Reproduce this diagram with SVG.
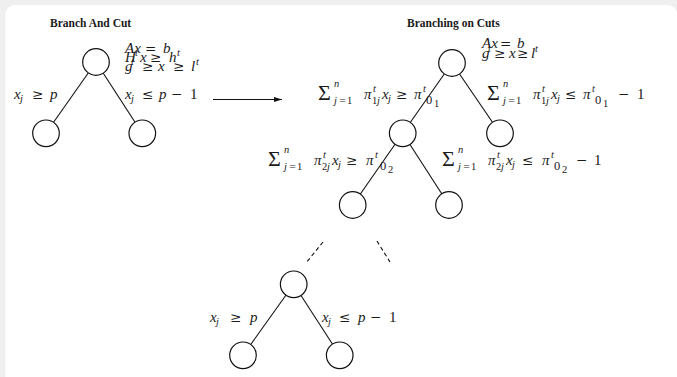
<svg xmlns="http://www.w3.org/2000/svg" width="677" height="377" viewBox="0 0 677 377">
<defs>
<style>
.bg{fill:#efefef}
.card{fill:#ffffff}
.ttl{font-family:"Liberation Serif",serif;font-weight:bold;font-size:11.5px;fill:#1a1a1a}
.m{font-family:"Liberation Serif",serif;font-style:italic;font-size:15px;fill:#1a1a1a}
.u{font-style:normal}
.o{font-family:"DejaVu Serif",serif;font-style:normal;font-size:13.5px}
.os{font-family:"DejaVu Serif",serif;font-style:normal;font-size:8.5px}
.s{font-size:10.5px}
.s2{font-size:12.5px}
.sum{font-size:22px;font-style:normal}
.node{fill:#fff;stroke:#111;stroke-width:1.2}
.edge{stroke:#111;stroke-width:1.1;fill:none}
.dash{stroke:#111;stroke-width:1.1;fill:none;stroke-dasharray:4 3}
</style>
<marker id="ah" markerWidth="8" markerHeight="6" refX="8" refY="3" orient="auto" markerUnits="userSpaceOnUse">
<path d="M0,0.5 L8,3 L0,5.5 Z" fill="#111"/>
</marker>
</defs>
<rect class="bg" x="0" y="0" width="677" height="377"/>
<rect class="card" x="5.5" y="5" width="671.5" height="380" rx="9"/>

<text class="ttl" x="50" y="27">Branch And Cut</text>
<text class="ttl" x="407" y="27">Branching on Cuts</text>

<g id="connectors">
<line class="edge" x1="96" y1="62" x2="46" y2="133"/>
<line class="edge" x1="96" y1="62" x2="142" y2="133"/>
<line class="edge" x1="213" y1="99.5" x2="282" y2="99.5" marker-end="url(#ah)"/>
<line class="edge" x1="452" y1="63" x2="402.7" y2="133.3"/>
<line class="edge" x1="452" y1="63" x2="500" y2="133.3"/>
<line class="edge" x1="402.7" y1="133.3" x2="352.7" y2="205"/>
<line class="edge" x1="402.7" y1="133.3" x2="449" y2="205"/>
<line class="dash" x1="323" y1="242" x2="306" y2="263"/>
<line class="dash" x1="377" y1="241" x2="390" y2="262"/>
<line class="edge" x1="293.7" y1="284.3" x2="243" y2="355.3"/>
<line class="edge" x1="293.7" y1="284.3" x2="339.7" y2="355.3"/>
</g>

<g id="n-l-root"><circle class="node" cx="96" cy="62" r="13.3"/></g>
<g id="n-l-left"><circle class="node" cx="46" cy="133.3" r="13.3"/></g>
<g id="n-l-right"><circle class="node" cx="142.3" cy="133.3" r="13.3"/></g>
<g id="n-r-root"><circle class="node" cx="452" cy="63" r="13.3"/></g>
<g id="n-r-1l"><circle class="node" cx="402.7" cy="133.3" r="13.3"/></g>
<g id="n-r-1r"><circle class="node" cx="500" cy="133.3" r="13.3"/></g>
<g id="n-r-2l"><circle class="node" cx="352.7" cy="205" r="13.3"/></g>
<g id="n-r-2r"><circle class="node" cx="449" cy="205" r="13.3"/></g>
<g id="n-b-root"><circle class="node" cx="293.7" cy="284.3" r="13.3"/></g>
<g id="n-b-left"><circle class="node" cx="243" cy="355.3" r="13.3"/></g>
<g id="n-b-right"><circle class="node" cx="339.7" cy="355.3" r="13.3"/></g>

<g id="labels">
<text class="m"><tspan x="125" y="53">Ax</tspan><tspan class="o" x="145" y="53">=</tspan><tspan x="163" y="53">b</tspan></text>
<text class="m"><tspan x="125" y="62">H</tspan><tspan class="s" x="135" y="56">t</tspan><tspan x="140" y="62">x</tspan><tspan class="o" x="150" y="62">≥</tspan><tspan x="169" y="62">h</tspan><tspan class="s" x="177" y="56">t</tspan></text>
<text class="m"><tspan x="125" y="71">g</tspan><tspan class="s" x="131" y="65">t</tspan><tspan class="o" x="142" y="71">≥</tspan><tspan x="158" y="71">x</tspan><tspan class="o" x="173" y="71">≥</tspan><tspan x="191" y="71">l</tspan><tspan class="s" x="196" y="65">t</tspan></text>
<text class="m"><tspan x="14" y="99">x</tspan><tspan class="s" x="20" y="102">j</tspan><tspan class="o" x="32" y="99">≥</tspan><tspan x="50" y="99">p</tspan></text>
<text class="m"><tspan x="125" y="99">x</tspan><tspan class="s" x="131" y="102">j</tspan><tspan class="o" x="142" y="99">≤</tspan><tspan x="159" y="99">p</tspan><tspan class="o" x="171" y="99">−</tspan><tspan class="u" x="190" y="99">1</tspan></text>

<text class="m"><tspan x="482" y="48">Ax</tspan><tspan class="o" x="500" y="48">=</tspan><tspan x="517" y="48">b</tspan></text>
<text class="m"><tspan x="482" y="58">g</tspan><tspan class="s" x="488" y="52">t</tspan><tspan class="o" x="494" y="58">≥</tspan><tspan x="509" y="58">x</tspan><tspan class="o" x="517" y="58">≥</tspan><tspan x="531" y="58">l</tspan><tspan class="s" x="535" y="52">t</tspan></text>

<text class="m"><tspan class="sum" x="318" y="100">Σ</tspan><tspan class="s" x="334" y="87">n</tspan><tspan class="s" x="334" y="104">j</tspan><tspan class="os" x="339" y="104">=</tspan><tspan class="s u" x="347" y="104">1</tspan><tspan x="364" y="99">π</tspan><tspan class="s" x="373" y="92">t</tspan><tspan class="s u" x="372" y="104">1</tspan><tspan class="s" x="377" y="104">j</tspan><tspan x="382" y="99">x</tspan><tspan class="s" x="388" y="102">j</tspan><tspan class="o" x="396" y="99">≥</tspan><tspan x="414" y="99">π</tspan><tspan class="s" x="423" y="92">t</tspan><tspan class="s2 u" x="426" y="104">0</tspan><tspan class="s u" x="434" y="107">1</tspan></text>

<text class="m"><tspan class="sum" x="487" y="100">Σ</tspan><tspan class="s" x="503" y="87">n</tspan><tspan class="s" x="503" y="104">j</tspan><tspan class="os" x="508" y="104">=</tspan><tspan class="s u" x="516" y="104">1</tspan><tspan x="533" y="99">π</tspan><tspan class="s" x="542" y="92">t</tspan><tspan class="s u" x="541" y="104">1</tspan><tspan class="s" x="546" y="104">j</tspan><tspan x="551" y="99">x</tspan><tspan class="s" x="557" y="102">j</tspan><tspan class="o" x="565" y="99">≤</tspan><tspan x="583" y="99">π</tspan><tspan class="s" x="592" y="92">t</tspan><tspan class="s2 u" x="595" y="104">0</tspan><tspan class="s u" x="603" y="107">1</tspan><tspan class="o" x="618" y="99">−</tspan><tspan class="u" x="637" y="99">1</tspan></text>

<text class="m"><tspan class="sum" x="268" y="166">Σ</tspan><tspan class="s" x="284" y="153">n</tspan><tspan class="s" x="284" y="170">j</tspan><tspan class="os" x="289" y="170">=</tspan><tspan class="s u" x="297" y="170">1</tspan><tspan x="314" y="165">π</tspan><tspan class="s" x="323" y="158">t</tspan><tspan class="s u" x="322" y="170">2</tspan><tspan class="s" x="327" y="170">j</tspan><tspan x="332" y="165">x</tspan><tspan class="s" x="338" y="168">j</tspan><tspan class="o" x="346" y="165">≥</tspan><tspan x="366" y="165">π</tspan><tspan class="s" x="375" y="158">t</tspan><tspan class="s2 u" x="380" y="170">0</tspan><tspan class="s u" x="388" y="173">2</tspan></text>

<text class="m"><tspan class="sum" x="442" y="166">Σ</tspan><tspan class="s" x="458" y="153">n</tspan><tspan class="s" x="458" y="170">j</tspan><tspan class="os" x="463" y="170">=</tspan><tspan class="s u" x="471" y="170">1</tspan><tspan x="488" y="165">π</tspan><tspan class="s" x="497" y="158">t</tspan><tspan class="s u" x="496" y="170">2</tspan><tspan class="s" x="501" y="170">j</tspan><tspan x="506" y="165">x</tspan><tspan class="s" x="512" y="168">j</tspan><tspan class="o" x="522" y="165">≤</tspan><tspan x="542" y="165">π</tspan><tspan class="s" x="551" y="158">t</tspan><tspan class="s2 u" x="554" y="170">0</tspan><tspan class="s u" x="562" y="173">2</tspan><tspan class="o" x="576" y="165">−</tspan><tspan class="u" x="594" y="165">1</tspan></text>

<text class="m"><tspan x="210" y="322">x</tspan><tspan class="s" x="216" y="325">j</tspan><tspan class="o" x="230" y="322">≥</tspan><tspan x="250" y="322">p</tspan></text>
<text class="m"><tspan x="322" y="322">x</tspan><tspan class="s" x="328" y="325">j</tspan><tspan class="o" x="339" y="322">≤</tspan><tspan x="358" y="322">p</tspan><tspan class="o" x="370" y="322">−</tspan><tspan class="u" x="389" y="322">1</tspan></text>
</g>
</svg>
